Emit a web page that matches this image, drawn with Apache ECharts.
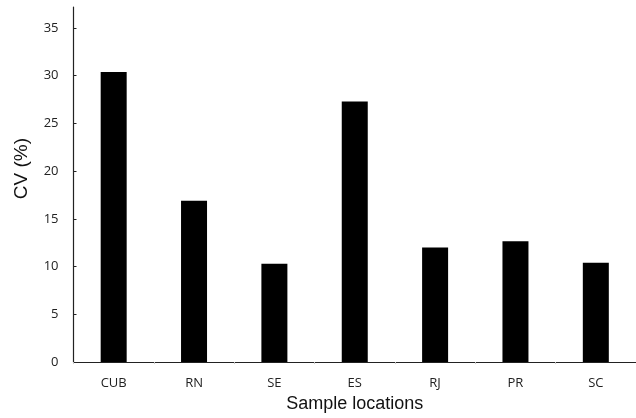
<!DOCTYPE html>
<html><head><meta charset="utf-8">
<script src="https://cdn.jsdelivr.net/npm/echarts@6/dist/echarts.min.js"></script>
<style>html,body{margin:0;padding:0;background:#fff}#c{width:636px;height:418px}</style>
</head><body><div id="c"></div>
<script>
const categories = ['CUB', 'RN', 'SE', 'ES', 'RJ', 'PR', 'SC'];
const cvValues = [30.4, 16.9, 10.3, 27.3, 12.0, 12.65, 10.4];
const yMin = 0, yMax = 37.2, yStep = 5;

const chart = echarts.init(document.getElementById('c'), null, {renderer: 'canvas'});
chart.setOption({
  animation: false,
  backgroundColor: '#fff',
  grid: {left: 73.5, top: 7, width: 567, height: 358, containLabel: false},
  xAxis: {
    type: 'category', data: categories,
    name: 'Sample locations', nameLocation: 'middle', nameGap: 32,
    nameTextStyle: {fontFamily: 'Liberation Sans', fontSize: 18, color: '#111'},
    axisLine: {lineStyle: {color: '#222', width: 1.2}},
    axisTick: {show: true, length: 2, lineStyle: {color: '#ccc'}},
    axisLabel: {margin: 15, fontFamily: 'Open Sans', fontSize: 13, color: '#222'},
    splitLine: {show: false}
  },
  yAxis: {
    type: 'value', min: yMin, max: yMax, interval: yStep,
    name: 'CV (%)', nameLocation: 'middle', nameGap: 42, nameRotate: 90,
    nameTextStyle: {fontFamily: 'Liberation Sans', fontSize: 19, color: '#111', padding: [0, 0, 0, 32]},
    axisLine: {show: true, lineStyle: {color: '#222', width: 1.2}},
    axisTick: {show: true, inside: true, length: 3, lineStyle: {color: '#222'}},
    axisLabel: {margin: 15, fontFamily: 'Open Sans', fontSize: 13, color: '#222', showMaxLabel: false},
    splitLine: {show: false}
  },
  series: [{
    type: 'bar', data: cvValues, barWidth: 26,
    itemStyle: {color: '#000'}
  }]
});
</script></body></html>
